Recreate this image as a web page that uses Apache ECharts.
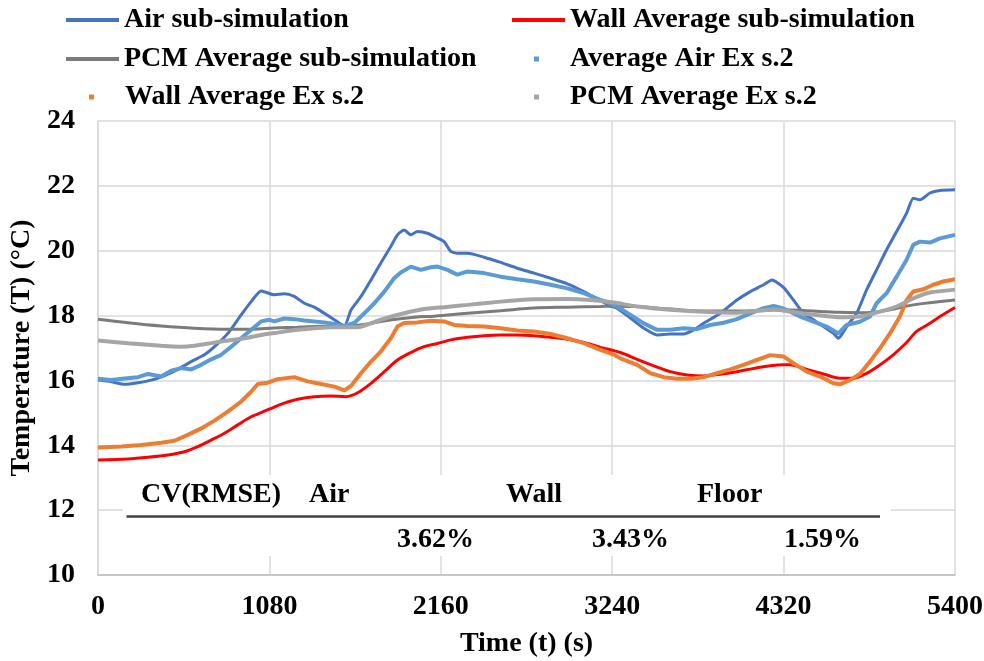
<!DOCTYPE html>
<html>
<head>
<meta charset="utf-8">
<script src="https://cdn.jsdelivr.net/npm/echarts@6/dist/echarts.min.js"></script>
<style>
  html, body { margin: 0; padding: 0; background: #fff; }
  #chart { width: 984px; height: 661px; }
</style>
</head>
<body>
<div id="chart"></div>
<script>
// Time axis (s) and temperature axis (°C) ticks
const xTicks = [0, 1080, 2160, 3240, 4320, 5400];
const yTicks = [10, 12, 14, 16, 18, 20, 22, 24];

// Air sub-simulation
const airSimTime = [0,84,168,252,336,420,503,587,671,734,818,902,965,1028,1111,1174,1237,1300,1363,1426,1489,1552,1594,1657,1720,1782,1845,1887,1929,1971,2013,2076,2139,2181,2223,2265,2328,2432,2537,2642,2747,2852,2957,3061,3166,3229,3271,3355,3439,3523,3606,3690,3753,3816,3921,4026,4110,4194,4246,4319,4382,4445,4508,4571,4633,4665,4717,4780,4843,4906,4969,5032,5095,5137,5179,5242,5305,5400];
const airSimTemp = [16.01,15.96,15.88,15.93,16.01,16.15,16.34,16.58,16.79,17.04,17.45,18.02,18.43,18.76,18.64,18.67,18.59,18.38,18.26,18.07,17.87,17.68,18.17,18.59,19.10,19.62,20.13,20.49,20.64,20.49,20.59,20.54,20.39,20.28,19.98,19.92,19.92,19.80,19.64,19.46,19.31,19.15,18.98,18.74,18.46,18.30,18.23,17.92,17.61,17.40,17.43,17.43,17.56,17.76,18.07,18.48,18.74,18.95,19.10,18.87,18.48,18.07,17.87,17.66,17.46,17.30,17.66,18.07,18.79,19.41,20.03,20.59,21.16,21.62,21.57,21.78,21.86,21.88];

// Wall Average sub-simulation
const wallSimTime = [0,189,315,440,545,629,713,797,881,965,1049,1111,1174,1258,1363,1468,1562,1636,1720,1804,1887,1971,2055,2139,2223,2328,2432,2537,2642,2747,2852,2957,3061,3166,3292,3397,3502,3606,3711,3816,3921,4026,4131,4236,4319,4361,4466,4571,4675,4759,4843,4927,5011,5095,5158,5242,5305,5400];
const wallSimTemp = [13.55,13.58,13.63,13.70,13.80,13.96,14.16,14.37,14.63,14.88,15.05,15.18,15.30,15.42,15.50,15.52,15.50,15.62,15.91,16.27,16.63,16.86,17.04,17.14,17.25,17.33,17.38,17.40,17.40,17.38,17.33,17.27,17.17,17.02,16.86,16.65,16.45,16.27,16.17,16.14,16.19,16.27,16.37,16.45,16.48,16.48,16.34,16.20,16.07,16.07,16.22,16.48,16.79,17.17,17.51,17.76,17.97,18.25];

// PCM Average sub-simulation
const pcmSimTime = [0,189,398,608,818,965,1112,1258,1468,1636,1782,1992,2118,2328,2537,2747,2957,3166,3250,3397,3606,3816,4026,4319,4466,4675,4843,4990,5137,5400];
const pcmSimTemp = [17.89,17.78,17.68,17.61,17.58,17.58,17.62,17.64,17.68,17.70,17.82,17.95,17.98,18.07,18.15,18.23,18.26,18.28,18.29,18.28,18.20,18.14,18.14,18.18,18.15,18.10,18.09,18.18,18.33,18.48];

// Average Air Ex s.2
const airExTime = [0,84,168,252,315,398,461,524,587,650,713,776,839,902,965,1028,1080,1111,1174,1237,1300,1363,1426,1489,1552,1615,1678,1741,1804,1866,1908,1971,2034,2097,2139,2202,2265,2328,2432,2537,2642,2747,2852,2957,3061,3166,3229,3271,3355,3439,3523,3606,3690,3774,3858,3942,4026,4110,4194,4257,4319,4424,4508,4591,4665,4717,4801,4864,4906,4969,5032,5095,5137,5179,5242,5305,5400];
const airExTemp = [16.05,16.01,16.06,16.10,16.20,16.12,16.30,16.38,16.34,16.48,16.65,16.79,17.04,17.30,17.56,17.82,17.87,17.82,17.91,17.89,17.85,17.82,17.79,17.74,17.68,17.77,18.07,18.38,18.74,19.15,19.33,19.51,19.41,19.49,19.51,19.41,19.26,19.36,19.31,19.20,19.12,19.05,18.95,18.84,18.69,18.48,18.38,18.28,18.02,17.76,17.56,17.56,17.61,17.58,17.71,17.78,17.89,18.07,18.23,18.30,18.22,17.97,17.81,17.66,17.45,17.71,17.81,17.97,18.38,18.69,19.20,19.72,20.18,20.28,20.25,20.38,20.49];

// Wall Average Ex s.2
const wallExTime = [0,147,273,398,482,566,650,734,818,902,965,1007,1070,1132,1237,1321,1405,1489,1552,1594,1657,1720,1782,1845,1887,1929,2013,2097,2181,2244,2328,2432,2537,2642,2747,2852,2957,3061,3166,3250,3292,3397,3481,3565,3648,3732,3816,3900,3984,4068,4152,4236,4319,4382,4466,4550,4633,4675,4738,4801,4864,4927,4990,5053,5095,5137,5200,5263,5326,5400];
const wallExTemp = [13.93,13.96,14.01,14.08,14.14,14.32,14.52,14.76,15.04,15.35,15.65,15.89,15.93,16.04,16.10,15.97,15.89,15.81,15.69,15.83,16.22,16.58,16.89,17.30,17.66,17.77,17.79,17.84,17.82,17.71,17.68,17.66,17.61,17.54,17.51,17.43,17.30,17.15,16.94,16.80,16.68,16.48,16.22,16.10,16.05,16.05,16.10,16.22,16.34,16.48,16.63,16.78,16.74,16.53,16.27,16.12,15.91,15.88,16.01,16.20,16.58,16.99,17.45,17.97,18.48,18.74,18.81,18.95,19.05,19.12];

// PCM Average Ex s.2
const pcmExTime = [0,189,398,524,608,713,818,923,1028,1112,1258,1468,1636,1782,1929,2055,2181,2328,2537,2747,2957,3103,3250,3397,3606,3816,4026,4256,4466,4675,4801,4927,5032,5137,5242,5400];
const pcmExTemp = [17.23,17.15,17.07,17.04,17.07,17.15,17.23,17.30,17.40,17.46,17.56,17.64,17.64,17.87,18.07,18.20,18.26,18.33,18.43,18.50,18.51,18.48,18.40,18.28,18.18,18.12,18.09,18.19,18.05,17.95,17.97,18.12,18.28,18.53,18.71,18.80];

// CV(RMSE) summary
const cvHeader = ['CV(RMSE)', 'Air', 'Wall', 'Floor'];
const cvValues = ['3.62%', '3.43%', '1.59%'];

const zip = (t, v) => t.map((x, i) => [x, v[i]]);

const FONT = 'Liberation Serif, Times New Roman, serif';
const txt = { fontFamily: FONT, fontWeight: 'bold', fontSize: 28, color: '#000' };

const seriesDefs = [
  { name: 'Air sub-simulation', data: zip(airSimTime, airSimTemp), color: '#4472C4', width: 3, smooth: 0.2 },
  { name: 'Wall Average sub-simulation', data: zip(wallSimTime, wallSimTemp), color: '#FF0000', width: 3, smooth: 0.3 },
  { name: 'PCM Average sub-simulation', data: zip(pcmSimTime, pcmSimTemp), color: '#7B7B7B', width: 3, smooth: 0.4 },
  { name: 'Average Air Ex s.2', data: zip(airExTime, airExTemp), color: '#5B9BD5', width: 4, smooth: 0 },
  { name: 'Wall Average Ex s.2', data: zip(wallExTime, wallExTemp), color: '#ED7D31', width: 4, smooth: 0 },
  { name: 'PCM Average Ex s.2', data: zip(pcmExTime, pcmExTemp), color: '#A5A5A5', width: 4, smooth: 0.2 }
];

// legend placement: [left, top, isMarker, textPadding]
const legendPos = [
  [66, 6, false, 0],
  [512, 6, false, 0],
  [66, 45, false, 0],
  [534, 45, true, 26],
  [89, 83, true, 26],
  [534, 83, true, 26]
];

const legends = seriesDefs.map((s, i) => {
  const [left, top, marker, pad] = legendPos[i];
  const base = {
    data: [s.name],
    left: left,
    top: top,
    padding: 0,
    selectedMode: false,
    textStyle: Object.assign({}, txt, { padding: [0, 0, 0, pad] })
  };
  if (marker) {
    Object.assign(base, { icon: 'rect', itemWidth: 5, itemHeight: 5 });
  } else {
    Object.assign(base, { icon: 'rect', itemWidth: 53, itemHeight: 4 });
  }
  return base;
});

const chart = echarts.init(document.getElementById('chart'), null, { renderer: 'canvas' });

const graphics = [
  { type: 'rect', z: 1, shape: { x: 123, y: 475, width: 768, height: 81 }, style: { fill: '#fff' } },
  { type: 'line', z: 3, shape: { x1: 126.5, y1: 516.5, x2: 880, y2: 516.5 }, style: { stroke: '#404040', lineWidth: 2.5 } }
];
const headerX = [141, 309, 506, 697];
cvHeader.forEach((t, i) => graphics.push({
  type: 'text', z: 3, left: headerX[i], top: 481,
  style: { text: t, font: 'bold 28px ' + FONT, fill: '#000' }
}));
const valueX = [397, 592, 784];
cvValues.forEach((t, i) => graphics.push({
  type: 'text', z: 3, left: valueX[i], top: 526,
  style: { text: t, font: 'bold 28px ' + FONT, fill: '#000' }
}));

chart.setOption({
  animation: false,
  backgroundColor: '#fff',
  grid: { left: 98, right: 29, top: 121, bottom: 86, containLabel: false, outerBoundsMode: 'none' },
  legend: legends,
  xAxis: {
    type: 'value',
    min: xTicks[0],
    max: xTicks[xTicks.length - 1],
    interval: 1080,
    name: 'Time (t) (s)',
    nameLocation: 'middle',
    nameGap: 55,
    nameTextStyle: txt,
    axisLine: { show: true, lineStyle: { color: '#BFBFBF', width: 1.5 } },
    axisTick: { show: false },
    axisLabel: Object.assign({}, txt, { margin: 18, formatter: v => String(v) }),
    splitLine: { show: true, lineStyle: { color: '#D9D9D9', width: 1.5 } }
  },
  yAxis: {
    type: 'value',
    min: yTicks[0],
    max: yTicks[yTicks.length - 1],
    interval: 2,
    name: 'Temperature (T) (°C)',
    nameLocation: 'middle',
    nameGap: 57,
    nameTextStyle: txt,
    axisLine: { show: true, lineStyle: { color: '#D9D9D9', width: 1.5 } },
    axisTick: { show: false },
    axisLabel: Object.assign({}, txt, { margin: 23 }),
    splitLine: { show: true, lineStyle: { color: '#D9D9D9', width: 1.5 } }
  },
  graphic: graphics,
  series: seriesDefs.map((s, i) => ({
    name: s.name,
    type: 'line',
    data: s.data,
    showSymbol: false,
    symbol: 'none',
    smooth: s.smooth,
    z: 2 + i,
    color: s.color,
    lineStyle: { color: s.color, width: s.width }
  }))
});
</script>
</body>
</html>
